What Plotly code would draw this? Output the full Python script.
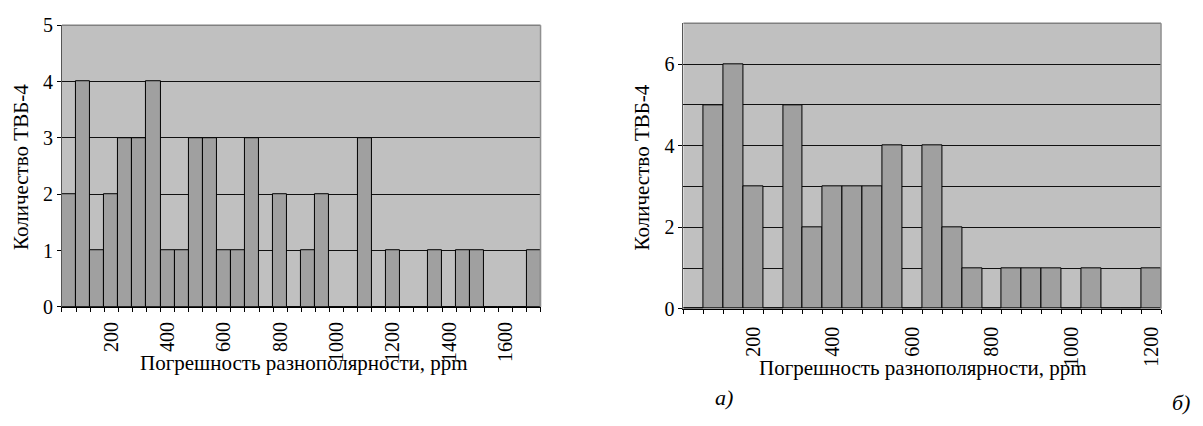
import plotly.graph_objects as go

# ---- data ----
cats_a = [50 * (i + 1) for i in range(34)]  # ppm, 50..1700
vals_a = [2, 4, 1, 2, 3, 3, 4, 1, 1, 3, 3, 1, 1, 3, 0, 2, 0, 1, 2, 0,
          0, 3, 0, 1, 0, 0, 1, 0, 1, 1, 0, 0, 0, 1]
ticks_a = [200, 400, 600, 800, 1000, 1200, 1400, 1600]

cats_b = [50 * (i + 1) for i in range(24)]  # ppm, 50..1200
vals_b = [0, 5, 6, 3, 0, 5, 2, 3, 3, 3, 4, 0, 4, 2, 1, 0, 1, 1, 1, 0,
          1, 0, 0, 1]
ticks_b = [200, 400, 600, 800, 1000, 1200]

y_title = "Количество ТВБ-4"
x_title = "Погрешность разнополярности, ppm"

FONT = "'Liberation Serif', 'Times New Roman', Times, serif"
BG = "#c0c0c0"
BAR = "#a0a0a0"

W, H = 1203, 426

fig = go.Figure()
fig.add_trace(go.Bar(x=cats_a, y=vals_a, width=50, marker=dict(color=BAR, line=dict(color="black", width=1)),
                     xaxis="x", yaxis="y", showlegend=False))
fig.add_trace(go.Bar(x=cats_b, y=vals_b, width=50, marker=dict(color=BAR, line=dict(color="black", width=1)),
                     xaxis="x2", yaxis="y2", showlegend=False))

def px_x(p):
    return p / W

def px_y(p):
    return 1 - p / H

# plot areas in pixels
A = dict(l=62, r=541, t=15, b=312)
B = dict(l=684, r=1162, t=13, b=314)

tickfont = dict(family=FONT, size=20, color="black")

common_x = dict(showgrid=False, zeroline=False, showline=True, linecolor="black", linewidth=1,
                ticks="", tickangle=-90, tickfont=tickfont, tickmode="array")

fig.update_layout(
    width=W, height=H, margin=dict(l=0, r=0, t=0, b=0), autosize=False,
    paper_bgcolor="white", plot_bgcolor=BG, bargap=0,
    font=dict(family=FONT),
    xaxis=dict(domain=[px_x(A["l"]), px_x(A["r"])], range=[25, 50 * len(cats_a) + 25],
               tickvals=ticks_a, ticktext=[str(t) for t in ticks_a], ticklabelstandoff=6,
               minor=dict(tick0=25, dtick=50, ticks="outside", ticklen=4, tickcolor="black", showgrid=False),
               anchor="y", **common_x),
    yaxis=dict(domain=[px_y(A["b"]), px_y(A["t"])], range=[0, 5], dtick=1, tick0=0,
               showgrid=True, gridcolor="#111111", gridwidth=1, zeroline=False,
               showline=True, linecolor="#555555", linewidth=1,
               ticks="outside", ticklen=4, tickcolor="black", tickfont=tickfont, anchor="x"),
    xaxis2=dict(domain=[px_x(B["l"]), px_x(B["r"])], range=[25, 50 * len(cats_b) + 25],
                tickvals=ticks_b, ticktext=[str(t) for t in ticks_b], ticklabelstandoff=9,
                minor=dict(tick0=25, dtick=50, ticks="outside", ticklen=4, tickcolor="black", showgrid=False),
                anchor="y2", **common_x),
    yaxis2=dict(domain=[px_y(B["b"]), px_y(B["t"])], range=[0, 7], dtick=2, tick0=0,
                showgrid=True, gridcolor="#111111", gridwidth=1, zeroline=False,
                showline=True, linecolor="#555555", linewidth=1,
                minor=dict(dtick=1, tick0=0, showgrid=True, gridcolor="#111111", gridwidth=1, ticks=""),
                ticks="outside", ticklen=4, tickcolor="black", tickfont=tickfont, anchor="x2"),
)

# plot-area borders (gray, top & right)
for ax, yax in (("x", "y"), ("x2", "y2")):
    fig.add_shape(type="line", xref=f"{ax} domain", yref=f"{yax} domain", x0=0, x1=1, y0=1, y1=1,
                  line=dict(color="#808080", width=1.5))
    fig.add_shape(type="line", xref=f"{ax} domain", yref=f"{yax} domain", x0=1, x1=1, y0=0, y1=1,
                  line=dict(color="#909090", width=1.5))

titlefont = dict(family=FONT, size=21, color="black")
ann = [
    dict(x=px_x(304), y=px_y(371), text=x_title, textangle=0),
    dict(x=px_x(924), y=px_y(376), text=x_title, textangle=0),
    dict(x=px_x(20.5), y=px_y(164), text=y_title, textangle=-90),
    dict(x=px_x(643.5), y=px_y(165), text=y_title, textangle=-90),
]
for a in ann:
    fig.add_annotation(xref="paper", yref="paper", showarrow=False, xanchor="center", yanchor="middle",
                       font=titlefont, **a)

fig.add_annotation(xref="paper", yref="paper", x=px_x(725), y=px_y(408), text="<i>а)</i>", showarrow=False,
                   xanchor="center", yanchor="middle", font=dict(family=FONT, size=22, color="black"))
fig.add_annotation(xref="paper", yref="paper", x=px_x(1182), y=px_y(413), text="<i>б)</i>", showarrow=False,
                   xanchor="center", yanchor="middle", font=dict(family=FONT, size=22, color="black"))

fig.write_html("out.html")
